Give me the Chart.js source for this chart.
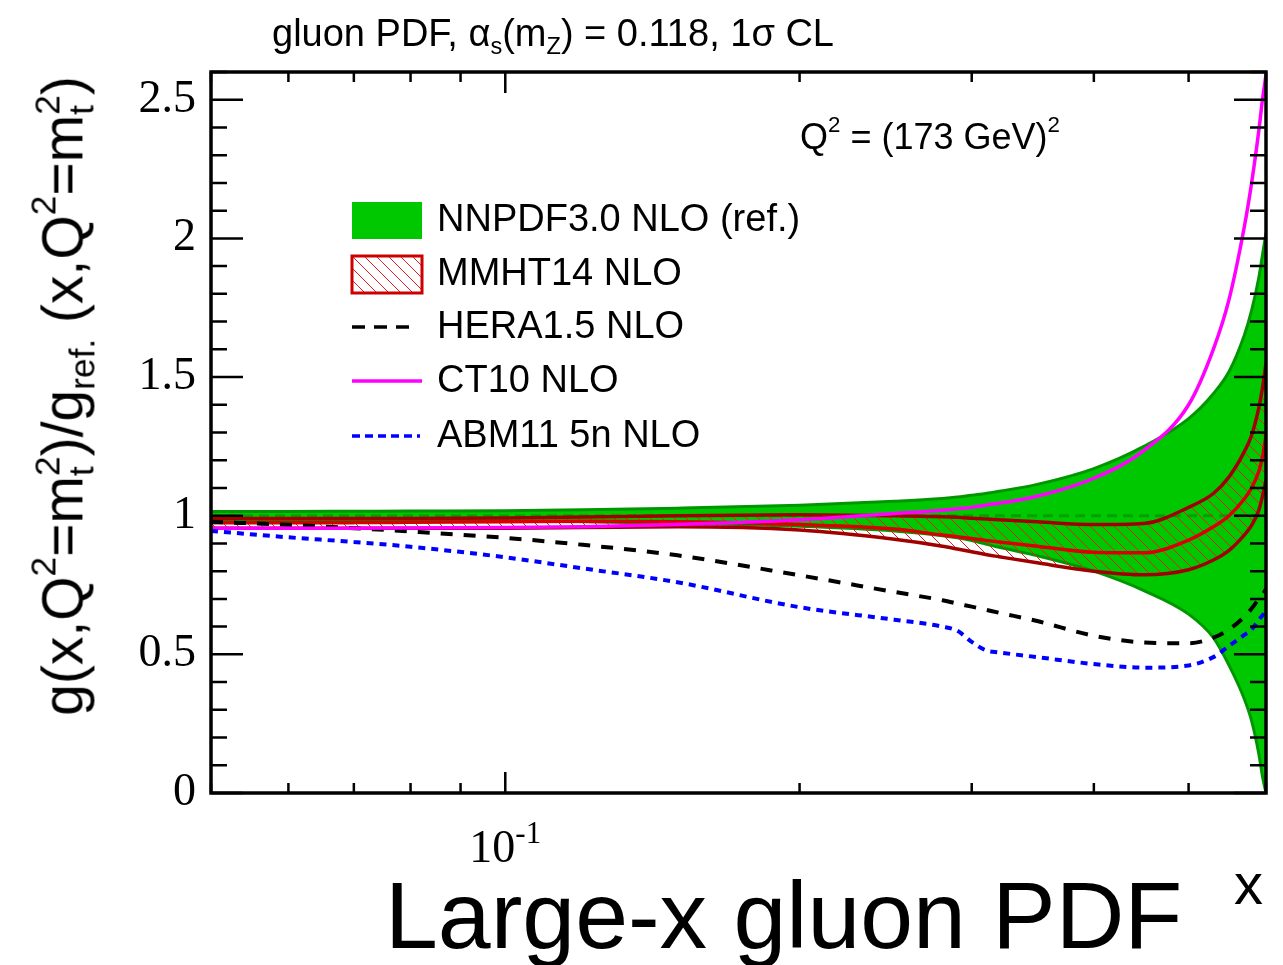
<!DOCTYPE html>
<html lang="en">
<head>
    <meta charset="UTF-8">
    <title>Large-x gluon PDF</title>
    <script src="https://cdn.jsdelivr.net/npm/chart.js"></script>
    <style>
        html, body { margin: 0; padding: 0; background: #fff; }
        #wrap { position: relative; width: 1283px; height: 965px; overflow: hidden;
                font-family: "Liberation Sans", Arial, sans-serif; color: #000; }
        #wrap canvas { position: absolute; left: 0; top: 0; }
        .txt { position: absolute; white-space: nowrap; line-height: 1; }
        .txt sup, .txt sub { font-size: 0.62em; position: relative; vertical-align: baseline; }
        .txt sup { top: -0.75em; }
        .txt sub { top: 0.35em; }
        .stack { display: inline-block; font-size: 0.62em; line-height: 0.95; vertical-align: -0.3em; text-align: left; }
        .stack span { display: block; }
        #title { left: 272px; top: 14px; font-size: 38px; }
        #qlabel { left: 800px; top: 119px; font-size: 36px; }
        #ytitle { left: 64px; top: 396px; font-size: 57px; transform: translate(-50%, -50%) rotate(-90deg); }
        #bigtitle { left: 385px; top: 868px; font-size: 95px; }
        #xtitle { left: 1234px; top: 855px; font-size: 58px; }
    </style>
</head>
<body>
<div id="wrap">
    <canvas id="pdfChart" width="1283" height="965"></canvas>
    <div class="txt" id="title">gluon PDF, &alpha;<sub>s</sub>(m<sub>Z</sub>) = 0.118, 1&sigma; CL</div>
    <div class="txt" id="qlabel">Q<sup>2</sup> = (173 GeV)<sup>2</sup></div>
    <div class="txt" id="ytitle">g(x,Q<sup>2</sup>=m<span class="stack"><span>2</span><span>t</span></span>)/g<sub>ref.</sub>&nbsp;(x,Q<sup>2</sup>=m<span class="stack"><span>2</span><span>t</span></span>)</div>
    <div class="txt" id="bigtitle">Large-x gluon PDF</div>
    <div class="txt" id="xtitle">x</div>
</div>
<script>
    // values
    const xValues = [0.05, 0.06, 0.07, 0.08, 0.1, 0.12, 0.15, 0.2, 0.25, 0.28, 0.29, 0.3, 0.31, 0.32,
                     0.35, 0.4, 0.45, 0.5, 0.53, 0.55, 0.57, 0.58, 0.59, 0.595, 0.6];

    const nnpdfUpper   = [1.015, 1.015, 1.016, 1.017, 1.018, 1.021, 1.027, 1.038, 1.052, 1.062, 1.067, 1.074, 1.08, 1.088,
                          1.113, 1.17, 1.25, 1.35, 1.44, 1.52, 1.65, 1.74, 1.86, 1.94, 2.02];
    const nnpdfCentral = [1, 1, 1, 1, 1, 1, 1, 1, 1, 1, 1, 1, 1, 1, 1, 1, 1, 1, 1, 1, 1, 1, 1, 1, 1];
    const nnpdfLower   = [0.985, 0.985, 0.984, 0.983, 0.981, 0.978, 0.973, 0.962, 0.945, 0.928, 0.92, 0.91, 0.898, 0.886,
                          0.856, 0.8, 0.73, 0.645, 0.56, 0.46, 0.34, 0.26, 0.14, 0.06, 0.0];

    const mmhtUpper   = [0.99, 0.99, 0.99, 0.99, 0.992, 0.995, 1.0, 1.003, 1.0, 0.996, 0.994, 0.991, 0.988, 0.985,
                         0.978, 0.968, 0.972, 1.03, 1.08, 1.14, 1.23, 1.29, 1.39, 1.46, 1.55];
    const mmhtCentral = [0.975, 0.975, 0.975, 0.976, 0.978, 0.98, 0.978, 0.968, 0.952, 0.93, 0.924, 0.918, 0.911, 0.905,
                         0.89, 0.868, 0.866, 0.912, 0.96, 1.0, 1.06, 1.1, 1.16, 1.21, 1.29];
    const mmhtLower   = [0.955, 0.955, 0.955, 0.955, 0.955, 0.957, 0.96, 0.948, 0.915, 0.89, 0.88, 0.87, 0.86, 0.852,
                         0.83, 0.8, 0.787, 0.805, 0.84, 0.875, 0.93, 0.965, 1.02, 1.07, 1.13];

    const hera = [0.978, 0.967, 0.955, 0.943, 0.92, 0.895, 0.857, 0.785, 0.725, 0.695, 0.683, 0.672, 0.661, 0.65,
                  0.62, 0.567, 0.543, 0.54, 0.56, 0.59, 0.635, 0.665, 0.70, 0.715, 0.735];
    const ct10 = [0.955, 0.955, 0.955, 0.956, 0.957, 0.96, 0.968, 0.985, 1.008, 1.02, 1.025, 1.03, 1.038, 1.045,
                  1.07, 1.135, 1.235, 1.40, 1.6, 1.78, 2.04, 2.2, 2.39, 2.5, 2.59];
    const abm  = [0.945, 0.922, 0.905, 0.888, 0.85, 0.81, 0.76, 0.67, 0.625, 0.6, 0.585, 0.545, 0.515, 0.507,
                  0.49, 0.465, 0.452, 0.46, 0.49, 0.53, 0.57, 0.59, 0.625, 0.64, 0.655];

    const seriesNames = ['NNPDF3.0 NLO (ref.)', 'MMHT14 NLO', 'HERA1.5 NLO', 'CT10 NLO', 'ABM11 5n NLO'];

    // axis ticks
    const xTickValues = [0.05, 0.06, 0.07, 0.08, 0.09, 0.1, 0.2, 0.3, 0.4, 0.5, 0.6];
    const xMajorTicks = [0.1];
    const yTickValues = [0, 0.1, 0.2, 0.3, 0.4, 0.5, 0.6, 0.7, 0.8, 0.9, 1, 1.1, 1.2, 1.3, 1.4, 1.5, 1.6,
                         1.7, 1.8, 1.9, 2, 2.1, 2.2, 2.3, 2.4, 2.5, 2.6];
    const yTickLabels = { 0: '0', 0.5: '0.5', 1: '1', 1.5: '1.5', 2: '2', 2.5: '2.5' };

    const colors = {
        green: '#00c800', greenEdge: '#009600', greenMid: '#00a000',
        redEdge: '#a00000', redMid: '#d80000', hatch: '#e02020',
        hera: '#000000', ct10: '#ff00ff', abm: '#0000ff'
    };

    function pts(arr) {
        return xValues.map((x, i) => ({ x: x, y: arr[i] }));
    }

    // hatch pattern for the MMHT band
    function makeHatch(bg) {
        const s = 12;
        const c = document.createElement('canvas');
        c.width = s; c.height = s;
        const g = c.getContext('2d');
        if (bg) { g.fillStyle = bg; g.fillRect(0, 0, s, s); }
        g.strokeStyle = colors.hatch;
        g.lineWidth = 1;
        g.beginPath();
        for (const k of [-s, 0, s]) {
            g.moveTo(k, 0);
            g.lineTo(k + s, s);
        }
        g.stroke();
        return g.createPattern(c, 'repeat');
    }
    const ctx = document.getElementById('pdfChart').getContext('2d');
    const hatch = makeHatch(null);
    const hatchWhite = makeHatch('#ffffff');

    const lineBase = { pointRadius: 0, pointHoverRadius: 0, cubicInterpolationMode: 'monotone', fill: false };

    const datasets = [
        Object.assign({}, lineBase, { label: seriesNames[4], data: pts(abm), borderColor: colors.abm, borderWidth: 4, borderDash: [7, 6], order: 1 }),
        Object.assign({}, lineBase, { label: seriesNames[3], data: pts(ct10), borderColor: colors.ct10, borderWidth: 3.5, order: 2 }),
        Object.assign({}, lineBase, { label: seriesNames[2], data: pts(hera), borderColor: colors.hera, borderWidth: 4, borderDash: [12, 11], order: 3 }),
        Object.assign({}, lineBase, { label: seriesNames[1] + ' central', data: pts(mmhtCentral), borderColor: colors.redMid, borderWidth: 3.5, order: 4 }),
        Object.assign({}, lineBase, { label: seriesNames[1] + ' lower', data: pts(mmhtLower), borderColor: colors.redEdge, borderWidth: 3.5, order: 5 }),
        Object.assign({}, lineBase, { label: seriesNames[1] + ' upper', data: pts(mmhtUpper), borderColor: colors.redEdge, borderWidth: 3.5,
                                      fill: { target: 4 }, backgroundColor: hatch, order: 6 }),
        Object.assign({}, lineBase, { label: seriesNames[0] + ' central', data: pts(nnpdfCentral), borderColor: colors.greenMid, borderWidth: 3, borderDash: [10, 6], order: 7 }),
        Object.assign({}, lineBase, { label: seriesNames[0] + ' lower', data: pts(nnpdfLower), borderColor: colors.greenEdge, borderWidth: 3, order: 8 }),
        Object.assign({}, lineBase, { label: seriesNames[0] + ' upper', data: pts(nnpdfUpper), borderColor: colors.greenEdge, borderWidth: 3,
                                      fill: { target: 7 }, backgroundColor: colors.green, order: 9 })
    ];

    // inward tick marks on all four sides + frame (ROOT style)
    const frameTicks = {
        id: 'frameTicks',
        afterDatasetsDraw(chart) {
            const { ctx, chartArea: a, scales: { x, y } } = chart;
            ctx.save();
            ctx.strokeStyle = '#000';
            ctx.lineWidth = 2.5;
            ctx.beginPath();
            x.ticks.forEach(t => {
                const px = x.getPixelForValue(t.value);
                const len = xMajorTicks.includes(t.value) ? 21 : 10;
                ctx.moveTo(px, a.bottom); ctx.lineTo(px, a.bottom - len);
                ctx.moveTo(px, a.top); ctx.lineTo(px, a.top + len);
            });
            y.ticks.forEach(t => {
                const py = y.getPixelForValue(t.value);
                const len = (t.value in yTickLabels) ? 32 : 16;
                ctx.moveTo(a.left, py); ctx.lineTo(a.left + len, py);
                ctx.moveTo(a.right, py); ctx.lineTo(a.right - len, py);
            });
            ctx.stroke();
            ctx.lineWidth = 3.5;
            ctx.strokeRect(a.left, a.top, a.right - a.left, a.bottom - a.top);
            ctx.restore();
        },
        afterDraw(chart) {
            // 10^-1 label under the decade tick
            const { ctx, scales: { x } } = chart;
            const px = x.getPixelForValue(0.1);
            ctx.save();
            ctx.fillStyle = '#000';
            ctx.textBaseline = 'alphabetic';
            ctx.font = '46px "Liberation Serif", "Times New Roman", serif';
            const w1 = ctx.measureText('10').width;
            ctx.font = '31px "Liberation Serif", "Times New Roman", serif';
            const w2 = ctx.measureText('-1').width;
            const start = px - (w1 + w2) / 2;
            ctx.font = '46px "Liberation Serif", "Times New Roman", serif';
            ctx.fillText('10', start, 862);
            ctx.font = '31px "Liberation Serif", "Times New Roman", serif';
            ctx.fillText('-1', start + w1, 843);
            ctx.restore();
        }
    };

    // legend in the upper left of the frame
    const legendPlugin = {
        id: 'pdfLegend',
        afterDraw(chart) {
            const c = chart.ctx;
            const x0 = 352, x1 = 422, tx = 437;
            const rows = [220, 274, 327, 381, 436];
            c.save();
            // NNPDF band
            c.fillStyle = colors.green;
            c.fillRect(x0, rows[0] - 18, x1 - x0, 37);
            // MMHT hatched box
            c.fillStyle = hatchWhite;
            c.fillRect(x0, rows[1] - 18, x1 - x0, 37);
            c.strokeStyle = '#cc0000';
            c.lineWidth = 3;
            c.strokeRect(x0, rows[1] - 18, x1 - x0, 37);
            // HERA dashed
            c.lineWidth = 3.5;
            c.strokeStyle = colors.hera;
            c.setLineDash([13, 9]);
            c.beginPath(); c.moveTo(x0, rows[2]); c.lineTo(x1 - 8, rows[2]); c.stroke();
            // CT10 solid
            c.setLineDash([]);
            c.strokeStyle = colors.ct10;
            c.beginPath(); c.moveTo(x0, rows[3]); c.lineTo(x1, rows[3]); c.stroke();
            // ABM dotted
            c.strokeStyle = colors.abm;
            c.setLineDash([8, 5]);
            c.beginPath(); c.moveTo(x0, rows[4]); c.lineTo(x1 - 2, rows[4]); c.stroke();
            c.setLineDash([]);
            // labels
            c.fillStyle = '#000';
            c.font = '38px "Liberation Sans", Arial, sans-serif';
            c.textBaseline = 'middle';
            seriesNames.forEach((name, i) => c.fillText(name, tx, rows[i] + 1));
            c.restore();
        }
    };

    const chart = new Chart(ctx, {
        type: 'line',
        data: { datasets: datasets },
        options: {
            responsive: false,
            animation: false,
            layout: { padding: { left: 0, top: 72, right: 17, bottom: 0 } },
            plugins: { legend: { display: false }, tooltip: { enabled: false } },
            scales: {
                x: {
                    type: 'logarithmic',
                    min: 0.05,
                    max: 0.6,
                    grid: { display: false, drawTicks: false },
                    border: { display: false },
                    ticks: { display: false, autoSkip: false },
                    afterBuildTicks: s => { s.ticks = xTickValues.map(v => ({ value: v })); },
                    afterFit: s => { s.height = 172; }
                },
                y: {
                    type: 'linear',
                    min: 0,
                    max: 2.6,
                    grid: { display: false, drawTicks: false },
                    border: { display: false },
                    ticks: {
                        autoSkip: false,
                        padding: 15,
                        color: '#000',
                        font: { family: '"Liberation Serif", "Times New Roman", serif', size: 46 },
                        callback: v => {
                            const k = Math.round(v * 10) / 10;
                            return (k in yTickLabels) ? yTickLabels[k] : '';
                        }
                    },
                    afterBuildTicks: s => { s.ticks = yTickValues.map(v => ({ value: v })); },
                    afterFit: s => { s.width = 211; }
                }
            }
        },
        plugins: [frameTicks, legendPlugin]
    });
</script>
</body>
</html>
